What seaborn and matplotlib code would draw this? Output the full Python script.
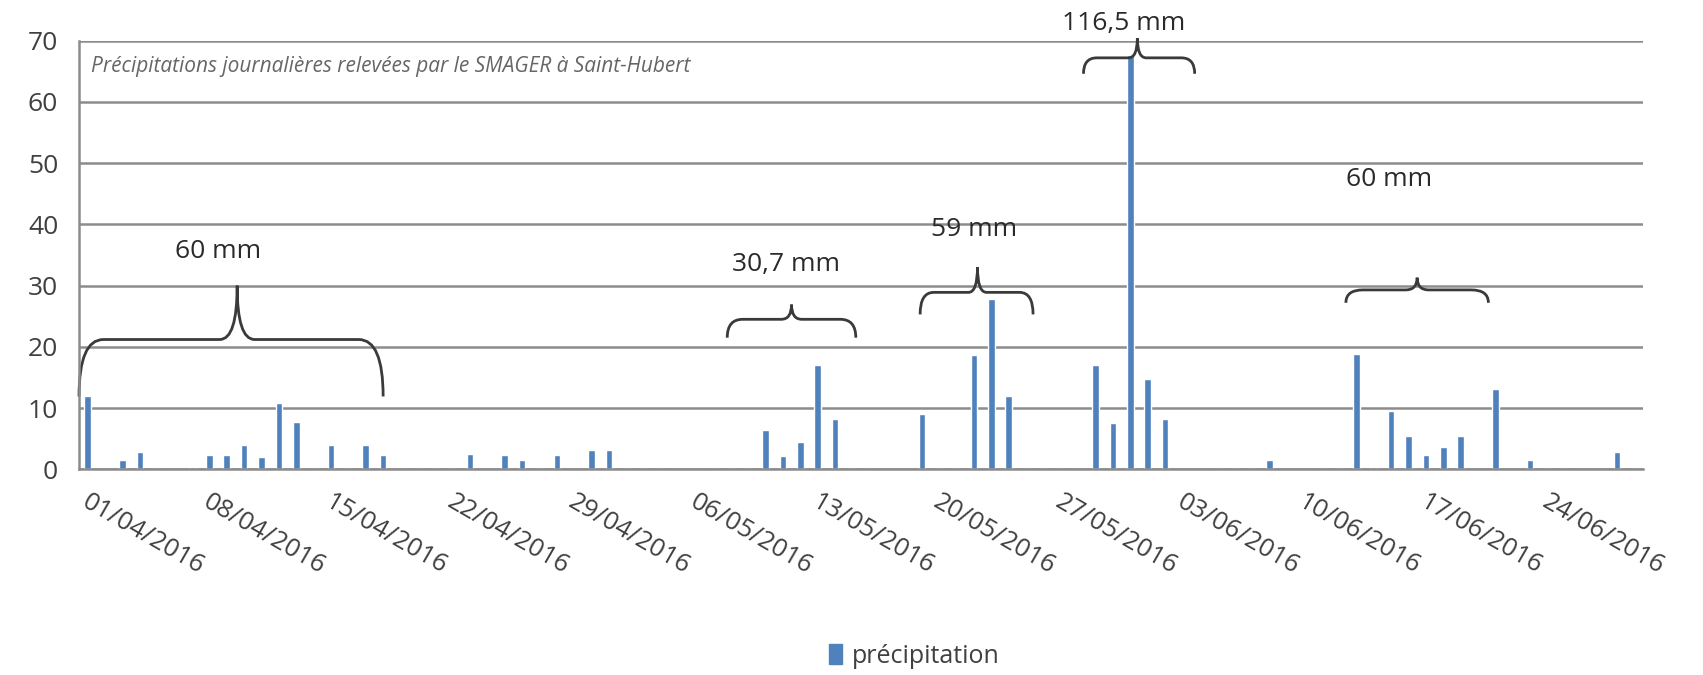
import numpy as np
import pandas as pd
import seaborn as sns
import matplotlib.pyplot as plt
from matplotlib.path import Path
from matplotlib.patches import PathPatch, Patch
from matplotlib.transforms import ScaledTranslation

# pluie journaliere (mm), jours sans pluie = 0
rain_dates = ['01/04', '03/04', '04/04', '07/04', '08/04', '09/04', '10/04', '11/04', '12/04',
              '13/04', '15/04', '17/04', '18/04', '23/04', '25/04', '26/04', '28/04', '30/04',
              '01/05', '10/05', '11/05', '12/05', '13/05', '14/05', '19/05', '22/05', '23/05',
              '24/05', '29/05', '30/05', '31/05', '01/06', '02/06', '08/06', '13/06', '14/06',
              '15/06', '16/06', '17/06', '18/06', '19/06', '21/06', '23/06', '28/06']
rain_mm = [12.0, 1.5, 2.9, 0.3, 2.4, 2.4, 4.0, 2.0, 10.9,
           7.8, 4.0, 4.0, 2.4, 2.5, 2.4, 1.5, 2.4, 3.2,
           3.2, 6.5, 2.2, 4.5, 17.1, 8.2, 9.0, 18.7, 27.8,
           11.9, 17.1, 7.5, 67.6, 14.8, 8.3, 1.5, 18.8, 0.4,
           9.5, 5.5, 2.3, 3.7, 5.5, 13.1, 1.5, 2.9]

cumul_labels = ['60 mm', '30,7 mm', '59 mm', '116,5 mm', '60 mm']
# accolades : x debut, x fin, x pointe, y bouts, y barre, y pointe
braces = [(-0.5, 17.0, 8.6, 11.9, 21.2, 30.0),
          (36.8, 44.2, 40.5, 21.5, 24.5, 26.9),
          (47.9, 54.4, 51.2, 25.3, 28.9, 33.0),
          (57.3, 63.7, 60.4, 64.6, 67.2, 70.4),
          (72.4, 80.6, 76.5, 27.2, 29.3, 31.3)]
label_pos = [(7.5, 35.5), (40.2, 33.5), (51.0, 39.2), (59.6, 72.8), (74.9, 47.4)]

days = pd.date_range('2016-04-01', '2016-06-29', freq='D')
df = pd.DataFrame({'date': days.strftime('%d/%m'), 'jour': np.arange(len(days))})
df['precipitation'] = df['date'].map(dict(zip(rain_dates, rain_mm))).fillna(0.0)

sns.set_style('white')
plt.rcParams['font.family'] = ['Open Sans', 'DejaVu Sans']

fig = plt.figure(figsize=(17.03, 6.75), dpi=100)
ax = fig.add_axes([0.0464, 0.3047, 0.9184, 0.635])

sns.barplot(data=df, x='jour', y='precipitation', color='#4F81BD', saturation=1,
            width=0.38, ax=ax)

grey = '#8c8c8c'
ax.set_ylim(0, 70)
ax.set_xlim(-0.5, len(days) - 0.5)
ax.set_yticks(range(0, 71, 10))
ax.yaxis.grid(True, color=grey, lw=1.8)
ax.set_axisbelow(True)
for s in ['top', 'right']:
    ax.spines[s].set_visible(False)
for s in ['left', 'bottom']:
    ax.spines[s].set_color(grey)
    ax.spines[s].set_linewidth(1.8)

# graduations tous les 7 jours, etiquettes inclinees un peu decalees a droite
tick_pos = np.arange(0, len(days), 7)
ax.set_xticks(tick_pos - 0.5)
ax.set_xticklabels([])
lab_trans = ax.get_xaxis_transform() + ScaledTranslation(0.11, -0.2, fig.dpi_scale_trans)
for p, d in zip(tick_pos, days[tick_pos].strftime('%d/%m/%Y')):
    ax.text(p - 0.5, 0, d, transform=lab_trans, rotation=-30, ha='left', va='top',
            rotation_mode='anchor', fontsize=18.5, color='#404040', clip_on=False)
ax.tick_params(axis='x', length=10, width=1.5, color=grey)
ax.tick_params(axis='y', length=7, width=1.5, color=grey, labelsize=19, labelcolor='#404040', pad=8)
ax.set_xlabel('')
ax.set_ylabel('')

ax.text(0.2, 65.8, 'Précipitations journalières relevées par le SMAGER à Saint-Hubert',
        fontsize=15, style='italic', color='#666666', va='center')


def brace(ax, x0, x1, xm, y_end, y_h, y_tip):
    r = min(1.4, (x1 - x0) * 0.12)
    r2 = min(1.0, (x1 - x0) * 0.08)
    verts = [(x0, y_end), (x0, y_h), (x0 + r, y_h),
             (xm - r2, y_h), (xm, y_h), (xm, y_tip),
             (xm, y_h), (xm + r2, y_h),
             (x1 - r, y_h), (x1, y_h), (x1, y_end)]
    codes = [Path.MOVETO, Path.CURVE3, Path.CURVE3,
             Path.LINETO, Path.CURVE3, Path.CURVE3,
             Path.CURVE3, Path.CURVE3,
             Path.LINETO, Path.CURVE3, Path.CURVE3]
    ax.add_patch(PathPatch(Path(verts, codes), fc='none', ec='#3a3a3a', lw=2.0, clip_on=False))


for b, lab, (lx, ly) in zip(braces, cumul_labels, label_pos):
    brace(ax, *b)
    ax.text(lx, ly, lab, ha='center', va='center', fontsize=19, color='#2a2a2a', clip_on=False)

fig.legend(handles=[Patch(color='#4F81BD', label='précipitation')], loc='center',
           bbox_to_anchor=(0.537, 0.028), frameon=False, fontsize=18, handlelength=0.5,
           handleheight=0.9, handletextpad=0.4, labelcolor='#404040')

fig.savefig('out.png', dpi=100)
